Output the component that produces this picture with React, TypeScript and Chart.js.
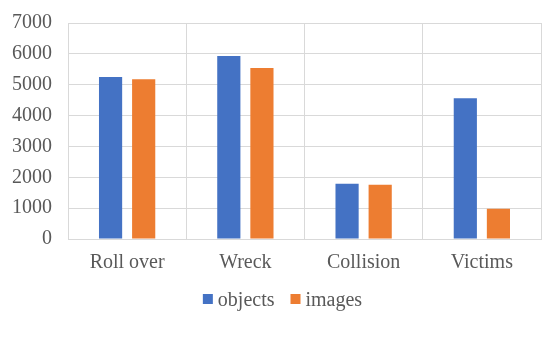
import React, { useEffect, useRef } from "react";
import { Chart, registerables } from "chart.js";

Chart.register(...registerables);

const categories = ["Roll over", "Wreck", "Collision", "Victims"];
const seriesNames = ["objects", "images"];
const objectsValues = [5250, 5930, 1790, 4560];
const imagesValues = [5180, 5540, 1760, 980];
const seriesColors = ["#4472C4", "#ED7D31"];
const yMin = 0;
const yMax = 7000;
const yStep = 1000;

const FONT_FAMILY = "'Liberation Serif', 'Times New Roman', serif";
const TEXT_COLOR = "#595959";

const bottomLegend = {
  id: "bottomLegend",
  afterDraw(chart: any) {
    const ctx = chart.ctx as CanvasRenderingContext2D;
    ctx.save();
    ctx.font = `20px ${FONT_FAMILY}`;
    ctx.textBaseline = "middle";
    const box = 10;
    const boxGap = 5;
    const itemGap = 16;
    const items = chart.data.datasets.map((d: any) => ({
      text: d.label as string,
      color: d.backgroundColor as string,
      w: ctx.measureText(d.label).width,
    }));
    const total = items.reduce((s: number, it: any) => s + box + boxGap + it.w, 0) + itemGap * (items.length - 1);
    let x = chart.width / 2 + 6 - total / 2;
    const y = 300;
    items.forEach((it: any) => {
      ctx.fillStyle = it.color;
      ctx.fillRect(x, y - box / 2 - 1, box, box);
      x += box + boxGap;
      ctx.fillStyle = TEXT_COLOR;
      ctx.textAlign = "left";
      ctx.fillText(it.text, x, y + 1);
      x += it.w + itemGap;
    });
    ctx.restore();
  },
};

export default function App() {
  const ref = useRef<HTMLCanvasElement | null>(null);
  useEffect(() => {
    document.body.style.margin = "0";
    const font = { family: FONT_FAMILY, size: 20 };
    const chart = new Chart(ref.current as HTMLCanvasElement, {
      type: "bar",
      data: {
        labels: categories,
        datasets: [
          { label: seriesNames[0], data: objectsValues, backgroundColor: seriesColors[0], borderWidth: 0 },
          { label: seriesNames[1], data: imagesValues, backgroundColor: seriesColors[1], borderWidth: 0 },
        ],
      },
      plugins: [bottomLegend],
      options: {
        animation: false,
        responsive: false,
        maintainAspectRatio: false,
        layout: { padding: { left: -4, right: 12, top: 23, bottom: 50 } },
        datasets: { bar: { categoryPercentage: 0.56, barPercentage: 0.7 } },
        plugins: {
          legend: { display: false },
          tooltip: { enabled: false },
        },
        scales: {
          x: {
            grid: { color: "#D9D9D9", drawTicks: false, lineWidth: 1 },
            border: { color: "#D9D9D9" },
            ticks: { color: TEXT_COLOR, font, padding: 12 },
          },
          y: {
            min: yMin,
            max: yMax,
            grid: { color: "#D9D9D9", drawTicks: false },
            border: { display: false },
            afterFit: (scale: any) => {
              scale.paddingTop = 0;
            },
            ticks: {
              stepSize: yStep,
              color: TEXT_COLOR,
              font,
              padding: 16,
              callback: (v: any) => String(v),
            },
          },
        },
      },
    });
    return () => chart.destroy();
  }, []);
  return (
    <div style={{ width: 553, height: 337 }}>
      <canvas ref={ref} width={553} height={337} style={{ width: 553, height: 337 }} />
    </div>
  );
}
